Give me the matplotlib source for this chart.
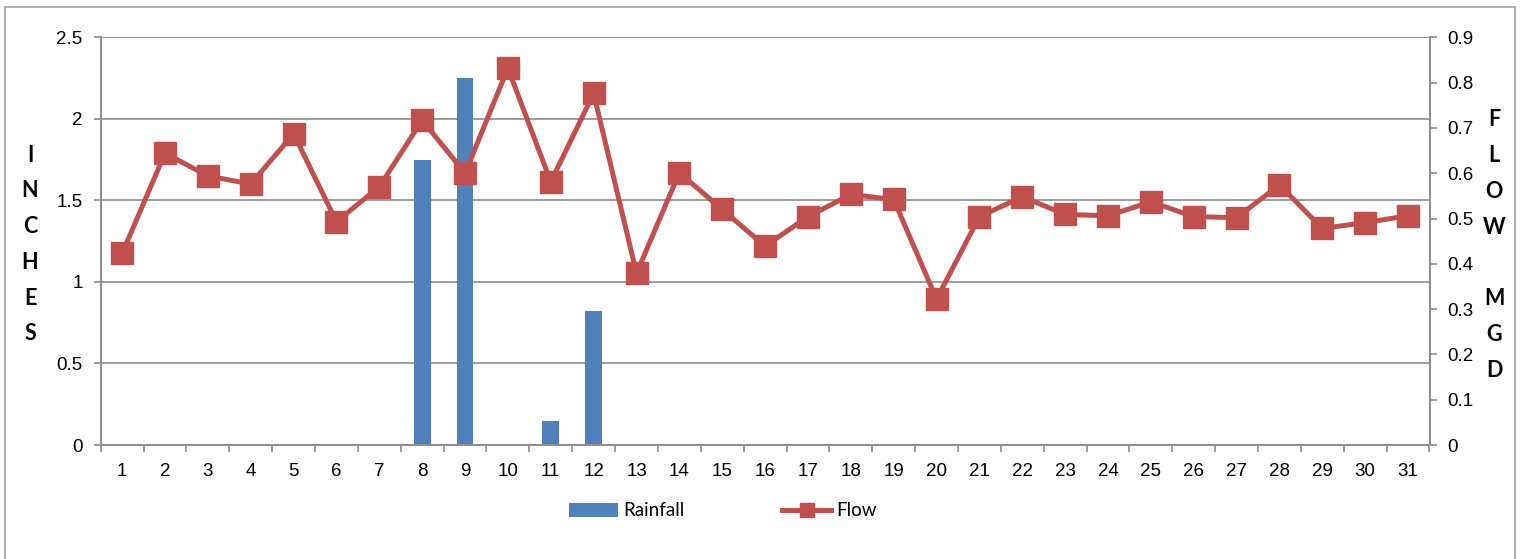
import numpy as np
import matplotlib
matplotlib.use("Agg")
import matplotlib.pyplot as plt
from matplotlib.patches import Rectangle

# =============================================================================
# data
# =============================================================================
days = list(range(1, 32))
rainfall = [0, 0, 0, 0, 0, 0, 0, 1.75, 2.25, 0, 0.15, 0.82, 0, 0, 0, 0,
            0, 0, 0, 0, 0, 0, 0, 0, 0, 0, 0, 0, 0, 0, 0]
flow = [0.423, 0.644, 0.594, 0.576, 0.687, 0.493, 0.570, 0.717, 0.600,
        0.832, 0.581, 0.776, 0.379, 0.601, 0.520, 0.439, 0.504, 0.553,
        0.542, 0.322, 0.504, 0.548, 0.509, 0.506, 0.537, 0.504, 0.502,
        0.574, 0.478, 0.491, 0.506]
left_ticks = [0, 0.5, 1, 1.5, 2, 2.5]
left_labels = ["0", "0.5", "1", "1.5", "2", "2.5"]
right_ticks = [0, 0.1, 0.2, 0.3, 0.4, 0.5, 0.6, 0.7, 0.8, 0.9]
right_labels = ["0", "0.1", "0.2", "0.3", "0.4", "0.5", "0.6", "0.7", "0.8", "0.9"]

blue = "#4F81BD"
red = "#C0504D"
gray = "#8C8C8C"

plt.rcParams["font.family"] = ["Liberation Sans", "DejaVu Sans"]

fig = plt.figure(figsize=(15.4, 5.59), dpi=100)
ax = fig.add_axes([100.7 / 1540, 1 - 445 / 559, (1429.5 - 100.7) / 1540, (445 - 37.3) / 559])
ax2 = ax.twinx()

bars = ax.bar(days, rainfall, width=0.39, color=blue, label="Rainfall", zorder=2)
line, = ax2.plot(days, flow, color=red, lw=3.6, marker="s", ms=16,
                 label="Flow", zorder=3)

ax.set_xlim(0.5, 31.5)
ax.set_ylim(0, 2.5)
ax2.set_ylim(0, 0.9)
ax.set_xticks(days)
ax.set_yticks(left_ticks)
ax.set_yticklabels(left_labels)
ax2.set_yticks(right_ticks)
ax2.set_yticklabels(right_labels)

# ticks sit between the day labels, like the category axis in a spreadsheet
ax.set_xticks(np.arange(0.5, 32, 1), minor=True)
ax.tick_params(axis="x", which="major", length=0, pad=13, labelsize=13.5)
ax.tick_params(axis="x", which="minor", length=5, color=gray, width=1.2)
ax.tick_params(axis="y", length=5, color=gray, width=1.2, pad=8, labelsize=13.5)
ax2.tick_params(axis="y", length=5, color=gray, width=1.2, pad=8, labelsize=13.5)

ax.yaxis.grid(True, color=gray, lw=1.2, zorder=0)
ax.set_axisbelow(True)

for a in (ax, ax2):
    a.spines["top"].set_visible(False)
    for s in ("left", "right", "bottom"):
        a.spines[s].set_color(gray)
        a.spines[s].set_linewidth(1.2)

# stacked axis titles
fig.text(30 / 1540, 1 - 244.5 / 559, "I\nN\nC\nH\nE\nS", ha="center", va="center",
         fontsize=15.5, fontweight="bold", family=["Lato", "DejaVu Sans"], linespacing=1.87)
fig.text(1494 / 1540, 1 - 245 / 559, "F\nL\nO\nW\n\nM\nG\nD", ha="center", va="center",
         fontsize=15.5, fontweight="bold", family=["Lato", "DejaVu Sans"], linespacing=1.87)

fig.legend(handles=[bars, line], loc="center", bbox_to_anchor=(723 / 1540, 1 - 511 / 559),
           ncol=2, frameon=False, prop={"family": ["Lato", "DejaVu Sans"], "size": 13.5},
           handlelength=2.6, handleheight=0.7, handletextpad=0.3, columnspacing=5.2,
           markerscale=0.65)

# outer chart frame
fig.patches.append(Rectangle((5 / 1540, -0.05), 1510 / 1540, 1.05 - 7 / 559,
                             transform=fig.transFigure, fill=False,
                             edgecolor="#A0A0A0", lw=1.2))

fig.savefig("out.png", dpi=100)
